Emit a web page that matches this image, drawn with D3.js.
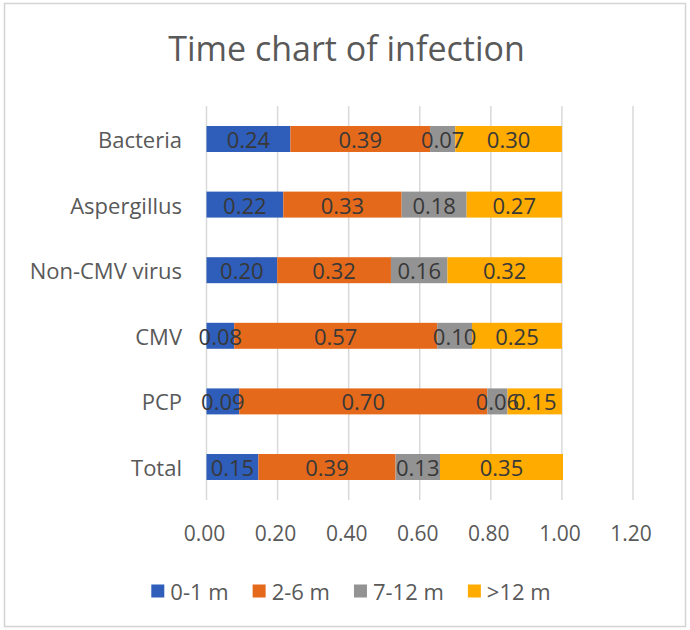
<!DOCTYPE html>
<html>
<head>
<meta charset="utf-8">
<script src="https://cdn.jsdelivr.net/npm/d3@7"></script>
<style>
  html, body { margin: 0; padding: 0; background: #fff; }
  svg { display: block; }
</style>
</head>
<body>
<svg id="chart" width="690" height="630"></svg>
<script>
const title = "Time chart of infection";
const categories = ["Bacteria", "Aspergillus", "Non-CMV virus", "CMV", "PCP", "Total"];
const seriesNames = ["0-1 m", "2-6 m", "7-12 m", ">12 m"];
const series01m  = [0.236, 0.216, 0.199, 0.078, 0.092, 0.146];
const series26m  = [0.393, 0.333, 0.320, 0.571, 0.698, 0.386];
const series712m = [0.071, 0.183, 0.159, 0.098, 0.057, 0.125];
const series12m  = [0.300, 0.268, 0.322, 0.253, 0.153, 0.346];
const xTicks = [0, 0.2, 0.4, 0.6, 0.8, 1.0, 1.2];
const colors = ["#2E5EB9", "#E5691B", "#939393", "#FFAB00"];

const seriesValues = [series01m, series26m, series712m, series12m];
const rows = categories.map((c, i) => {
  const r = { category: c };
  seriesNames.forEach((s, j) => { r[s] = seriesValues[j][i]; });
  return r;
});
const stacked = d3.stack().keys(seriesNames)(rows);

const svg = d3.select("#chart");
const FONT = "'Open Sans', 'DejaVu Sans', sans-serif";

// outer border
svg.append("rect")
  .attr("x", 4.5).attr("y", 3.5).attr("width", 681).attr("height", 623)
  .attr("fill", "#fff").attr("stroke", "#D4D4D4").attr("stroke-width", 1.5);

// title
svg.append("text")
  .attr("x", 346.5).attr("y", 61)
  .attr("text-anchor", "middle")
  .attr("font-family", FONT).attr("font-size", 34)
  .attr("fill", "#595959")
  .text(title);

const x = d3.scaleLinear().domain([0, 1.2]).range([206.5, 633]);
const y = d3.scaleBand().domain(categories).range([106.2, 499.8])
  .paddingInner(0.604).paddingOuter(0.302);

// gridlines
svg.append("g").selectAll("line").data(xTicks).join("line")
  .attr("x1", d => x(d)).attr("x2", d => x(d))
  .attr("y1", 106).attr("y2", 500)
  .attr("stroke", "#D9D9D9").attr("stroke-width", 1.5);

// tick labels
svg.append("g").selectAll("text").data(xTicks).join("text")
  .attr("x", d => x(d) - 2).attr("y", 533)
  .attr("text-anchor", "middle").attr("dominant-baseline", "central")
  .attr("font-family", FONT).attr("font-size", 21).attr("fill", "#595959")
  .text(d => d3.format(".2f")(d));

// category labels
svg.append("g").selectAll("text").data(categories).join("text")
  .attr("x", 182).attr("y", d => y(d) + y.bandwidth() / 2)
  .attr("text-anchor", "end").attr("dominant-baseline", "central")
  .attr("font-family", FONT).attr("font-size", 22).attr("fill", "#595959")
  .text(d => d);

// bars
const layers = svg.append("g").selectAll("g").data(stacked).join("g")
  .attr("fill", (d, i) => colors[i]);
layers.selectAll("rect").data(d => d).join("rect")
  .attr("x", d => x(d[0]))
  .attr("width", d => x(d[1]) - x(d[0]))
  .attr("y", d => y(d.data.category))
  .attr("height", y.bandwidth());

// data labels
const labelG = svg.append("g");
stacked.forEach(layer => {
  labelG.append("g").selectAll("text").data(layer).join("text")
    .attr("x", d => (x(d[0]) + x(d[1])) / 2)
    .attr("y", d => y(d.data.category) + y.bandwidth() / 2)
    .attr("text-anchor", "middle").attr("dominant-baseline", "central")
    .attr("font-family", FONT).attr("font-size", 22).attr("fill", "#383838")
    .text(d => d3.format(".2f")(d.data[layer.key]));
});

// legend
const legend = svg.append("g");
const items = legend.selectAll("g").data(seriesNames).join("g");
items.append("rect").attr("width", 13).attr("height", 13)
  .attr("y", -6.5).attr("fill", (d, i) => colors[i]);
items.append("text").attr("x", 19).attr("y", 0)
  .attr("dominant-baseline", "central")
  .attr("font-family", FONT).attr("font-size", 22).attr("fill", "#595959")
  .text(d => d);
let widths = [];
items.each(function () { widths.push(this.getBBox().width); });
const gap = 24;
const total = d3.sum(widths) + gap * (widths.length - 1);
let cx = 351 - total / 2;
items.each(function (d, i) {
  d3.select(this).attr("transform", `translate(${cx},591)`);
  cx += widths[i] + gap;
});
</script>
</body>
</html>
